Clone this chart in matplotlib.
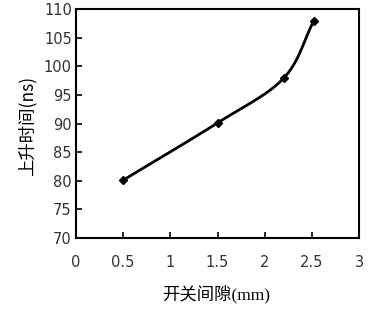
import numpy as np
import matplotlib
matplotlib.use("Agg")
import matplotlib.pyplot as plt

# data
gap_mm = [0.5, 1.5, 2.2, 2.52]
rise_ns = [80.1, 90.1, 97.9, 107.9]

x_ticks = [0, 0.5, 1, 1.5, 2, 2.5, 3]
x_ticklabels = ["0", "0.5", "1", "1.5", "2", "2.5", "3"]
y_ticks = [70, 75, 80, 85, 90, 95, 100, 105, 110]


def smooth(xs, ys, n=40):
    # Catmull-Rom curve through the points, like a spreadsheet "smoothed line"
    p = np.column_stack([xs, ys]).astype(float)
    p = np.vstack([2 * p[0] - p[1], p, 2 * p[-1] - p[-2]])
    out = []
    t = np.linspace(0, 1, n)[:, None]
    for i in range(1, len(p) - 2):
        p0, p1, p2, p3 = p[i - 1], p[i], p[i + 1], p[i + 2]
        seg = 0.5 * ((2 * p1) + (-p0 + p2) * t
                     + (2 * p0 - 5 * p1 + 4 * p2 - p3) * t ** 2
                     + (-p0 + 3 * p1 - 3 * p2 + p3) * t ** 3)
        out.append(seg)
    out = np.vstack(out)
    return out[:, 0], out[:, 1]


fig = plt.figure(figsize=(3.76, 3.10), dpi=100)
ax = fig.add_axes([76 / 376, 1 - 238 / 310, 283 / 376, 229 / 310])

sx, sy = smooth(gap_mm, rise_ns)
ax.plot(sx, sy, color="black", lw=2)
ax.plot(gap_mm, rise_ns, ls="none", marker="D", ms=4, color="black")

ax.set_xlim(0, 3)
ax.set_ylim(70, 110)
ax.set_xticks(x_ticks)
ax.set_xticklabels(x_ticklabels)
ax.set_yticks(y_ticks)
ax.tick_params(direction="in", length=4, width=1.2, labelsize=10.5,
               labelcolor="#333333")
ax.tick_params(axis="x", pad=12)
ax.tick_params(axis="y", pad=3)
for s in ax.spines.values():
    s.set_linewidth(1.5)

mixed = ["Liberation Serif", "Noto Sans CJK SC"]
fig.text(216 / 376, 1 - 294 / 310, "开关间隙(mm)", ha="center", va="center",
         fontsize=12.5, family=mixed)
fig.text(27 / 376, 1 - 126 / 310, "上升时间(ns)", ha="center", va="center",
         rotation=90, fontsize=12.5, family=["Noto Sans CJK SC", "DejaVu Sans"])

fig.savefig("out.png", dpi=100)
